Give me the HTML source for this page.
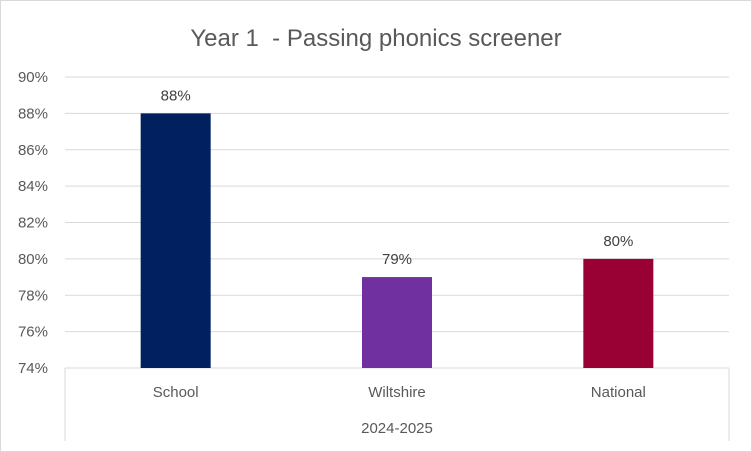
<!DOCTYPE html>
<html><head><meta charset="utf-8"><style>
body{margin:0;background:#fff;}
svg{display:block;font-family:"Liberation Sans",Calibri,sans-serif;}
</style></head><body>
<svg width="752" height="452">
<rect x="0.5" y="0.5" width="751" height="451" fill="#fff" stroke="#d9d9d9"/>
<text x="376" y="46" text-anchor="middle" font-size="24" fill="#595959" style="white-space:pre">Year 1  - Passing phonics screener</text>
<g id="grid"></g><g id="bars"></g><g id="axis"></g>
</svg>
<script>
const categories=["School","Wiltshire","National"];
const values=[88,79,80];
const colors=["#002060","#7030a0","#990033"];
const ticks=[74,76,78,80,82,84,86,88,90];
const group="2024-2025";
const NS="http://www.w3.org/2000/svg";
const x0=65,x1=729,yTop=77,yBot=368,vmin=74,vmax=90;
const y=v=>yBot-(v-vmin)/(vmax-vmin)*(yBot-yTop);
const bw=(x1-x0)/categories.length;
const xc=i=>x0+bw*(i+0.5);
function mk(t,a,p){const e=document.createElementNS(NS,t);for(const k in a)e.setAttribute(k,a[k]);p.appendChild(e);return e;}
const g=document.getElementById('grid'),b=document.getElementById('bars'),ax=document.getElementById('axis');
ticks.forEach(t=>{
 const l=mk('line',{x1:x0,x2:x1,y1:y(t),y2:y(t),stroke:'#d9d9d9'},g);
 
 
 const tx=mk('text',{x:48,y:y(t)+5,'text-anchor':'end','font-size':15,fill:'#595959'},g);
 tx.textContent=t+'%';
 
 
});
categories.forEach((c,i)=>{
 const r=mk('rect',{x:xc(i)-35,y:y(values[i]),width:70,height:yBot-y(values[i]),fill:colors[i]},b);
 
 
 const lb=mk('text',{x:xc(i),y:y(values[i])-13,'text-anchor':'middle','font-size':15,fill:'#404040'},b);
 lb.textContent=values[i]+'%';
 
 
 const cl=mk('text',{x:xc(i),y:397,'text-anchor':'middle','font-size':15,fill:'#595959'},ax);
 cl.textContent=c;
 
 
});
[x0,x1].forEach((xx,k)=>{
 const l=mk('line',{x1:xx,x2:xx,y1:yBot,y2:441,stroke:'#d9d9d9'},ax);
 
 
});
const gl=mk('text',{x:(x0+x1)/2,y:433,'text-anchor':'middle','font-size':15,fill:'#595959'},ax);
gl.textContent=group;


</script>
</body></html>
